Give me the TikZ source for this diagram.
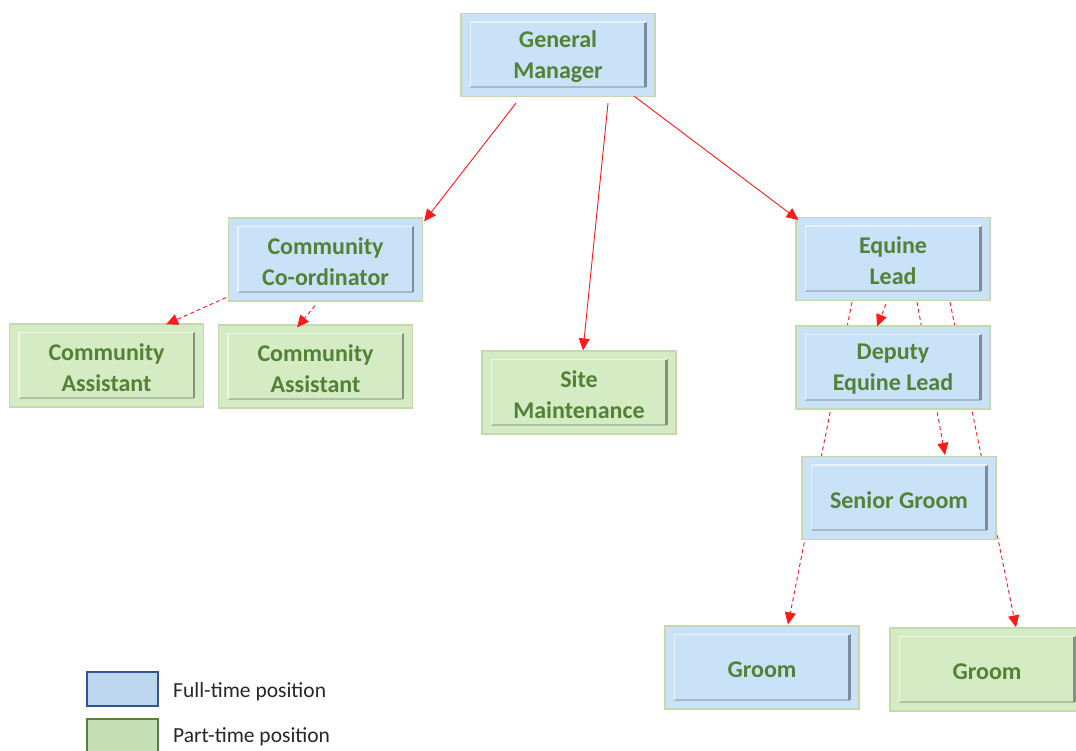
\documentclass[tikz,border=0pt]{standalone}
\usepackage{fontspec}
\setmainfont{Carlito}
\usetikzlibrary{arrows.meta}
\definecolor{fullfill}{HTML}{C9E2F8}
\definecolor{partfill}{HTML}{D4EBC4}
\definecolor{boxedge}{HTML}{C5D9AD}
\definecolor{txtgreen}{HTML}{538135}
\definecolor{arrred}{HTML}{FF1A1A}
\definecolor{legbluefill}{HTML}{BDD7EE}
\definecolor{legblueedge}{HTML}{2F5597}
\definecolor{leggreenfill}{HTML}{C5E0B4}
\definecolor{leggreenedge}{HTML}{548235}
\definecolor{legtext}{HTML}{262626}
\pgfdeclarelayer{bg}
\pgfsetlayers{bg,main}
\newcommand{\orgbox}[4]{%
  \node[obox, fill=#3] (#1) at (#2) {};
  \coordinate (#1-tl) at ([shift={(10,9)}]#1.north west);
  \coordinate (#1-br) at ([shift={(-10,-10)}]#1.south east);
  \draw[line width=2pt, #3!82!black] (#1-tl |- #1-br) -- (#1-br);
  \draw[line width=2.5pt, #3!62!black] (#1-br) -- (#1-br |- #1-tl);
  \draw[line width=1.5pt, white!55!#3] (#1-br |- #1-tl) -- (#1-tl) -- (#1-tl |- #1-br);
  \node[otext] (#1-t) at ([shift={(0,2)}]#1.center) {#4};
}
\begin{document}
\begin{tikzpicture}[x=1pt,y=-1pt,
  obox/.style={draw=boxedge, line width=1.2pt, minimum width=194pt, minimum height=83pt, inner sep=0pt},
  otext/.style={inner sep=0pt, align=center, text=txtgreen, font=\fontsize{24}{31}\selectfont\bfseries},
  conn/.style={draw=arrred, line width=0.9pt, -{Triangle[length=12pt,width=11pt]}},
  dconn/.style={conn, dash pattern=on 4pt off 3pt},
  legbox/.style={minimum width=71pt, minimum height=34pt, inner sep=0pt, line width=1.5pt},
  legtxt/.style={anchor=west, inner sep=0pt, text=legtext, font=\fontsize{21.5}{25}\selectfont}
]
\useasboundingbox (0,0) rectangle (1076,751);
\begin{pgfonlayer}{bg}
\fill[white] (0,0) rectangle (1076,751);
\end{pgfonlayer}

\orgbox{gm}{558,55}{fullfill}{General\\Manager}
\orgbox{cc}{325.5,259.5}{fullfill}{Community\\Co-ordinator}
\orgbox{eq}{893,259}{fullfill}{Equine\\Lead}
\orgbox{dep}{893,367.5}{fullfill}{Deputy\\Equine Lead}
\orgbox{sg}{899,498}{fullfill}{Senior Groom}
\orgbox{caa}{106.5,365.5}{partfill}{Community\\Assistant}
\orgbox{cab}{315.5,366.5}{partfill}{Community\\Assistant}
\orgbox{sm}{579,392.5}{partfill}{Site\\Maintenance}
\orgbox{ga}{762,667.5}{fullfill}{Groom}
\orgbox{gb}{987,669.5}{partfill}{Groom}

% solid connectors
\draw[conn] ([shift={(-42,6)}]gm.south) -- ([shift={(1,4)}]cc.north east);
\draw[conn] ([shift={(50,6)}]gm.south) -- ([shift={(4,0)}]sm.north);
\draw[conn] ([shift={(76,-1)}]gm.south) -- ([shift={(3,3)}]eq.north west);

% dashed connectors
\draw[dconn] ([shift={(-2,-4)}]cc.south west) -- ([shift={(-38,1)}]caa.north east);
\draw[dconn] ([shift={(-10.5,4)}]cc.south) -- ([shift={(-18.5,3)}]cab.north);
\draw[dconn] ([shift={(-7,3)}]eq.south) -- ([shift={(-16,1)}]dep.north);

\begin{pgfonlayer}{bg}
\draw[dconn] ([shift={(24,1)}]eq.south) -- ([shift={(46,-1)}]sg.north);
\draw[dconn] ([shift={(-41,1)}]eq.south) -- ([shift={(26,-1)}]ga.north);
\draw[dconn] ([shift={(57,1)}]eq.south) -- ([shift={(29,0)}]gb.north);
\end{pgfonlayer}

% legend
\node[legbox, draw=legblueedge, fill=legbluefill] (lfull) at (122.5,689) {};
\node[legtxt] (lfulltxt) at (173,692) {Full-time position};
\node[legbox, draw=leggreenedge, fill=leggreenfill, minimum height=36pt] (lpart) at (122.5,737) {};
\node[legtxt] (lparttxt) at (173,737) {Part-time position};
\end{tikzpicture}
\end{document}
